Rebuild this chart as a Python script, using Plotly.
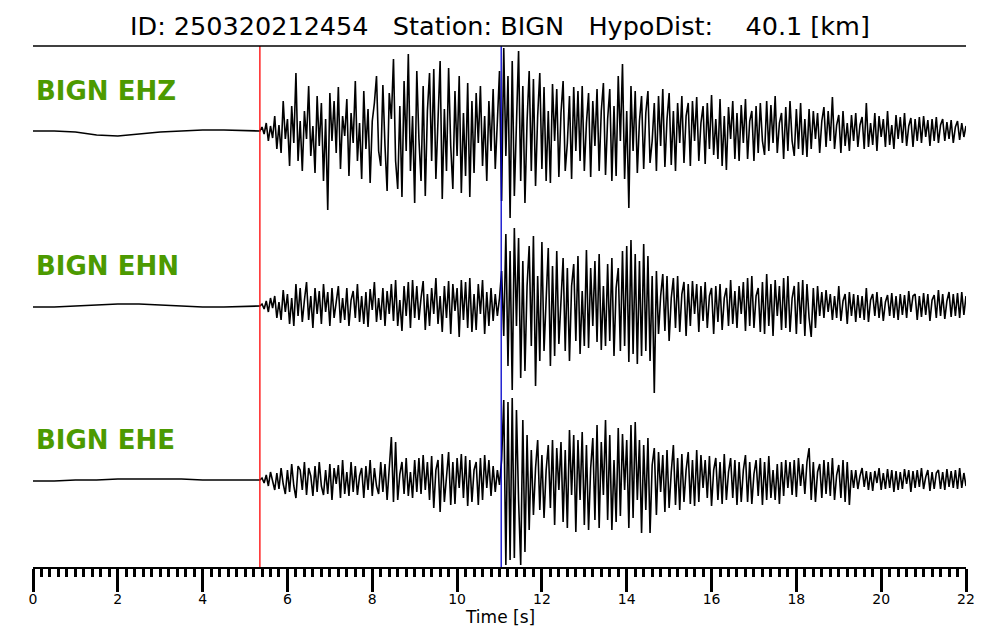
import plotly.graph_objects as go

# ---------------- data ----------------
title_text = "ID: 250320212454   Station: BIGN   HypoDist:    40.1 [km]"
channels = ["BIGN EHZ", "BIGN EHN", "BIGN EHE"]
p_pick = 5.35      # s (red)
s_pick = 11.04     # s (blue)

pre_times = [0.0, 0.5, 1.0, 1.5, 2.0, 2.5, 3.0, 3.5, 4.0, 4.5, 5.0]
pre_ehz = [0, 0, -1, -4, -5, -3, -1, 0, 1, 1, 0]
pre_ehn = [-1, -1, 0, 1, 2, 2, 1, 0, -1, -1, 0]
pre_ehe = [-1, -1, 0, 0, 1, 1, 1, 1, 0, 0, 0]

ev_start = 5.35
ev_dt = 0.05

ev_ehz = [
    0, 4, -3, 8, -10, 5, -7, 15, -18, 6, -22, 30, -8, 12, -35, 25, -12, 58, -30, 10,
    -40, 20, -8, 45, -25, 5, -42, 35, -15, 28, -50, 12, -79, 38, -10, 30, -22, 44, -38, 15,
    -5, 32, -45, 18, -12, 50, -30, 8, -48, 40, -18, 22, -52, 10, 28, 55, -20, -35, 46, -15,
    -60, 38, 12, 72, -30, -58, 25, -66, 50, -20, 77, -40, 15, -72, 60, -8, -50, 45, -65, 20,
    58, -30, 62, -48, 10, 70, -68, 22, -40, 63, -15, -58, 40, -25, 55, -62, 18, -45, 48, -66,
    30, -42, 38, -12, 45, -35, 15, -50, 30, -20, 42, -38, 10, 60, -70, 83, -25, 55, -87, 70,
    -65, 20, 80, -50, 45, -72, 10, 60, -40, 52, -55, 15, 58, -38, 44, -50, 20, -52, 47, -10,
    42, -46, 18, 50, -40, -12, 35, -48, 44, -20, 40, -30, 45, -40, 8, 38, -46, 30, -15, 42,
    -40, 20, 48, -44, 12, 42, -50, 25, -45, 55, -10, 67, -48, 20, -77, 45, -20, 40, -42, 10,
    35, -38, 18, 40, -32, -10, 28, -40, 35, -15, 42, -36, 12, 38, -34, 20, -40, 28, -12, 35,
    -32, 15, 28, -35, 30, -10, 34, -30, 8, 25, -33, 28, -18, 36, -24, 12, -28, 32, -35, 15,
    -39, 24, -8, 30, -28, 18, -30, 26, -12, 32, -28, 10, 20, -30, 25, -22, 28, -10, -24, 30,
    -20, 26, -12, 35, -22, 8, 18, -28, 24, -20, 30, -10, -25, 22, -18, 28, -24, 12, -26, 22,
    -18, 20, -8, 18, -22, 10, 24, -16, 20, -10, 34, -18, 6, 16, -22, 20, -15, 8, -20, 16,
    -10, 18, -16, 6, 14, -18, 28, -16, 8, -14, 18, -20, 15, -6, 12, -16, 20, -14, 6, -18,
    16, -8, 14, -12, 18, -15, 5, 13, -16, 12, -10, 14, -12, 15, -6, 11, -15, 12, -10, 14,
    -12, 6, 12, -10, 9, -8, 11, -12, 4, 10, -9, 8, -6, 5,
]

ev_ehn = [
    0, 2, -3, 5, -6, 8, -2, 10, -12, 4, -14, 16, -6, 12, -18, 8, -20, 22, -10, 18,
    -16, 6, 24, -14, 10, -22, 18, -8, 15, -18, 22, -6, 14, -20, 18, -12, 4, 20, -17, 8,
    -14, 18, -20, 6, 15, -12, 22, -16, 10, -18, 14, -21, 17, -4, 24, -16, 8, -14, 18, -20,
    15, -8, 22, -15, 26, -20, 6, -25, 20, -10, 24, -22, 26, -12, 20, -14, 8, 25, -24, 12,
    -20, 18, -8, 28, -18, 10, -26, 20, -12, 25, -28, 22, -5, 18, -31, 26, -14, 24, -22, 28,
    -26, 12, -24, 22, -8, 26, -28, 14, -20, 18, -15, 12, -10, 8, 35, -30, 72, -60, 55, -84,
    78, -20, 68, -72, 45, -65, 20, 60, -40, 70, -80, 30, -55, 64, -45, 10, 58, -60, 40, -50,
    55, -38, 12, 48, -45, 38, -55, 20, 42, -35, 50, -48, 15, -40, 56, -42, 38, -20, 45, -36,
    52, -44, 20, -40, 42, -35, 48, -50, 18, 38, -45, 55, -40, 60, -56, 66, -48, 52, -58, 45,
    -50, 62, -45, 50, -55, 30, -87, 35, -28, 10, 32, -25, 30, -35, 8, 28, -22, 30, -26, 12,
    24, -30, 22, -20, 25, -8, 22, -26, 20, -15, 24, -22, 10, 18, -28, 20, -16, 22, -24, 8,
    18, -20, 26, -18, 15, -22, 20, -8, 24, -25, 28, -20, 30, -22, 10, 18, -26, 24, -28, 32,
    -20, 22, -30, 26, -10, 20, -24, 28, -22, 30, -26, 8, 20, -28, 24, -18, 26, -30, 22, -12,
    -31, 18, -22, 20, -10, 14, -12, 16, -6, 12, -14, 10, -12, 20, -15, 5, 12, -18, 14, -10,
    12, -16, 11, -12, 10, -14, 18, -16, 6, 12, -10, 14, -12, 9, -15, 4, 11, -10, 13, -12,
    10, -14, 12, -9, 11, -12, 15, -6, 10, 12, -14, 10, -11, 13, -9, 12, -15, 6, 11, -12,
    16, -10, 12, -13, 5, 14, -11, 12, -10, 13, -12, 14, -9, 10,
]

ev_ehe = [
    0, 2, -3, 5, -6, 8, -2, -10, 7, -9, 12, -4, -14, 10, -12, 16, -6, -18, 14, 10,
    -10, 18, -15, 12, 4, -16, 14, -12, 18, -6, -15, 10, -14, 16, -20, 12, -4, 15, -18, 20,
    -14, 8, -16, 18, -12, 14, -15, 4, 12, -18, 14, -10, 20, -16, 12, -6, -14, 18, -12, 16,
    -20, 15, 43, -22, 38, -20, 6, 18, -14, 22, -16, 8, -18, 20, -12, 22, -14, 25, -10, 18,
    -20, 24, -28, 10, 20, -32, 26, -22, 8, 28, -25, 18, -24, 22, -8, 26, -18, 24, -26, 20,
    -22, 10, 18, -25, 22, -20, 25, -8, 20, -16, 14, -12, 10, -5, 20, 80, -85, 78, -80, 82,
    -78, 70, -20, -85, 60, -72, 45, -50, 30, -35, 12, 40, -30, 25, -38, 10, 35, -28, 40, -45,
    32, -10, 38, -42, 30, -48, 50, -15, 45, -52, 40, -20, 48, -45, 35, -50, 12, 42, -40, 55,
    -48, 38, -15, 60, -40, 45, -50, 20, -42, 52, -36, 46, -10, 40, -48, 55, -38, 58, -20, 40,
    -53, 35, -30, 42, -53, 15, 32, -35, 28, -12, 25, -32, 30, -28, 8, 35, -25, 22, -30, 26,
    -22, 10, 28, -24, 20, -26, 30, -22, 25, -8, 20, -18, 24, -26, 10, 22, -20, 18, -24, 26,
    -20, 8, 22, -18, 20, -25, 18, -22, 10, 25, -22, 18, -24, 6, 20, -16, 22, -25, 18, -20,
    24, -18, 10, -20, 16, -24, 18, -16, 20, -8, 18, -15, 20, -17, 22, -6, 16, -14, 18, 32,
    -20, 18, -22, 8, 16, -18, 20, -14, 18, -16, 22, -20, 5, 15, -18, 20, -22, 18, -25, 10,
    -8, 10, -9, 4, 12, -7, 9, -10, 8, -11, 9, -3, 12, -10, 7, -9, 11, -8, 10, -12,
    9, -10, 8, -9, 11, -4, 10, -12, 9, -8, 10, -7, 12, -9, 3, 10, -11, 8, -9, 7,
    10, -9, 8, -10, 11, -7, 9, -8, 10, -9, 12, -8, 7, -6,
]

x_ticks = [0, 2, 4, 6, 8, 10, 12, 14, 16, 18, 20, 22]

for arr in (ev_ehz, ev_ehn, ev_ehe):
    if len(arr) != 334:
        raise SystemExit("bad length %d" % len(arr))

# ---------------- figure ----------------
offsets = [0, -175, -349]
pre_series = [pre_ehz, pre_ehn, pre_ehe]
ev_series = [ev_ehz, ev_ehn, ev_ehe]

fig = go.Figure()
for name, pre, ev, off in zip(channels, pre_series, ev_series, offsets):
    t_ev = [ev_start + ev_dt * i for i in range(len(ev))]
    xs = pre_times + t_ev
    ys = [v + off for v in pre] + [v + off for v in ev]
    fig.add_trace(go.Scatter(x=xs, y=ys, mode="lines",
                             line=dict(color="black", width=1.6),
                             hoverinfo="skip", showlegend=False))
    fig.add_annotation(x=0, y=off + 40, xref="x", yref="y", text="<b>" + name + "</b>",
                       showarrow=False, xanchor="left", yanchor="middle", xshift=1,
                       font=dict(family="DejaVu Sans", size=26, color="#4C9A00"))

for tpick, col in [(p_pick, "#FF0000"), (s_pick, "#0000CC")]:
    fig.add_shape(type="line", x0=tpick, x1=tpick, y0=0, y1=1, xref="x", yref="paper",
                  line=dict(color=col, width=1.3))

# top spine
fig.add_shape(type="line", x0=0, x1=1, y0=1, y1=1, xref="paper", yref="paper",
              line=dict(color="black", width=1.5))

fig.add_annotation(x=0.5, y=(567 - 26) / 521, xref="paper", yref="paper",
                   text=title_text.replace(" ", "\u00a0"), showarrow=False,
                   xanchor="center", yanchor="middle",
                   font=dict(family="DejaVu Sans", size=25.5, color="black"))
fig.add_annotation(x=0.5, y=(567 - 617) / 521, xref="paper", yref="paper",
                   text="Time [s]", showarrow=False, xanchor="center", yanchor="middle",
                   font=dict(family="DejaVu Sans", size=17, color="black"))

fig.update_xaxes(range=[0, 22], tickvals=x_ticks, ticktext=[str(v) for v in x_ticks],
                 showline=True, linecolor="black", linewidth=2,
                 ticks="outside", ticklen=23, tickwidth=3, tickcolor="black",
                 ticklabelstandoff=-5,
                 minor=dict(dtick=0.2, ticks="outside", ticklen=8, tickwidth=3, tickcolor="black"),
                 showgrid=False, zeroline=False,
                 tickfont=dict(family="DejaVu Sans", size=14, color="black"))
fig.update_yaxes(range=[-436, 85], visible=False, showgrid=False, zeroline=False)

fig.update_layout(width=1000, height=640, margin=dict(l=33, r=34, t=46, b=73),
                  paper_bgcolor="white", plot_bgcolor="white", showlegend=False)

fig.write_html("out.html", config={"displayModeBar": False},
               post_script="document.body.style.margin='0';")
